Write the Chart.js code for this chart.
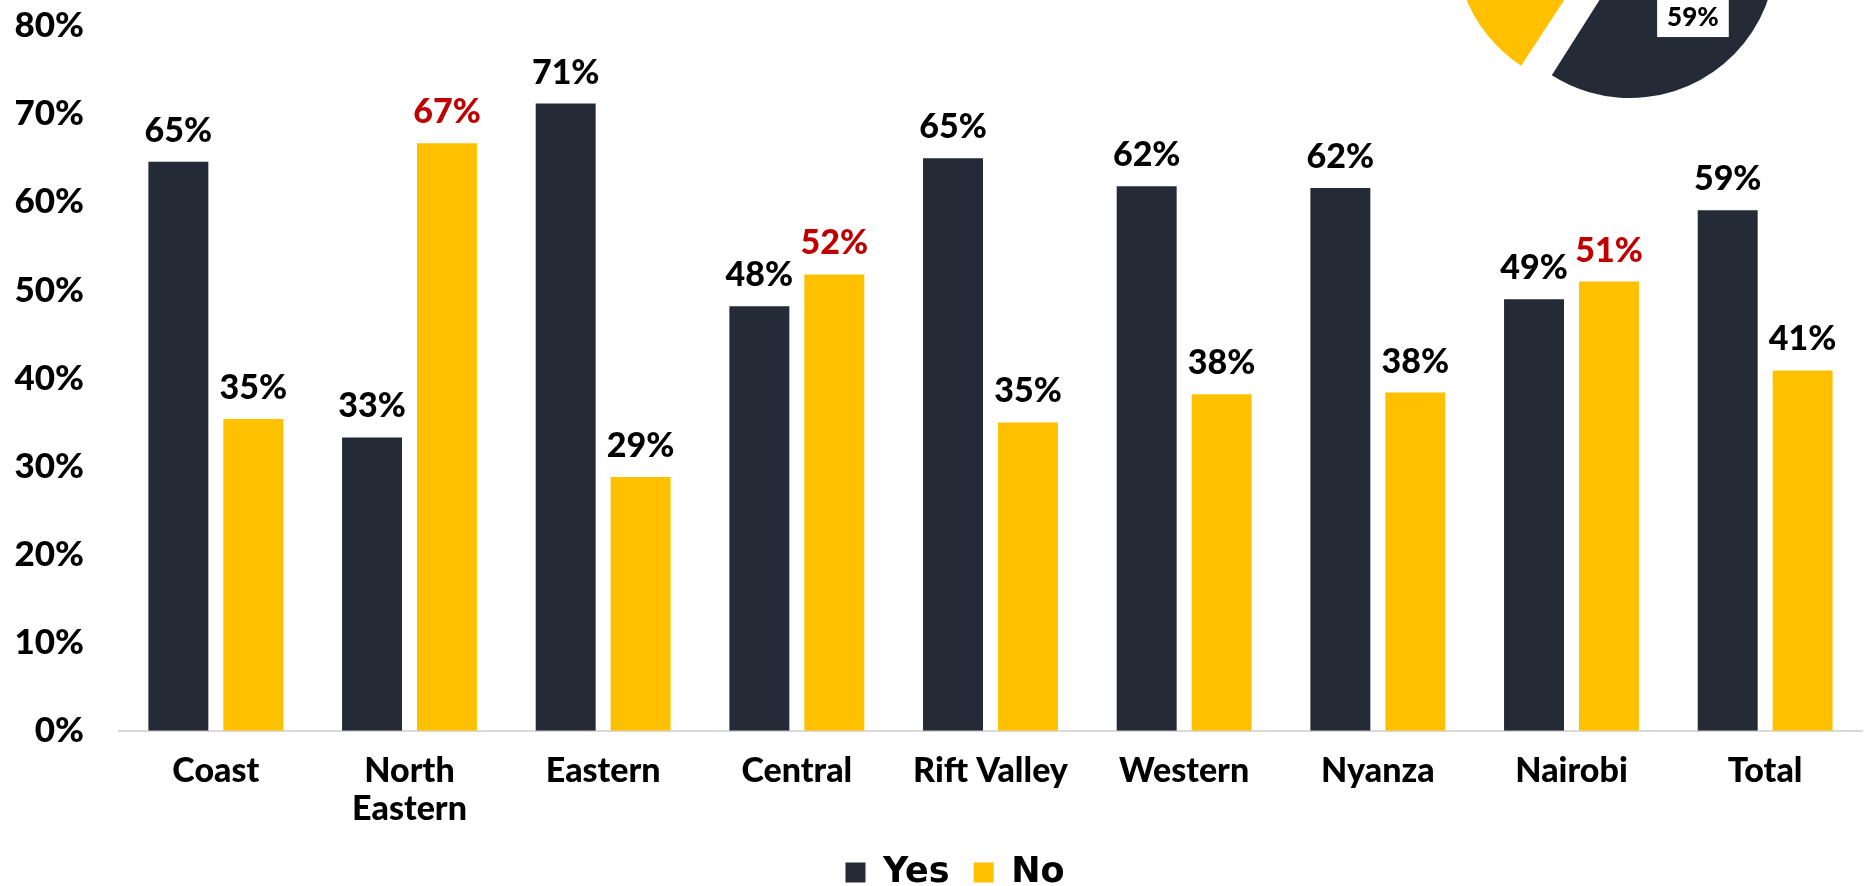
<!DOCTYPE html>
<html>
<head>
<meta charset="utf-8">
<script src="https://cdn.jsdelivr.net/npm/chart.js@4.4.1/dist/chart.umd.min.js"></script>
<style>
  html, body { margin: 0; padding: 0; background: #ffffff; overflow: hidden; width: 1872px; height: 886px; }
  #wrap { position: relative; width: 1872px; height: 886px; overflow: hidden; }
  #bars { position: absolute; left: 0; top: 0; }
  #pie { position: absolute; left: 1430px; top: -248px; }
</style>
</head>
<body>
<div id="wrap">
  <canvas id="bars" width="1872" height="886"></canvas>
  <canvas id="pie" width="400" height="400"></canvas>
</div>
<script>
// Regional breakdown: share answering Yes / No (%)
const regions = ['Coast', ['North', 'Eastern'], 'Eastern', 'Central', 'Rift Valley', 'Western', 'Nyanza', 'Nairobi', 'Total'];
const yesShare = [64.6, 33.3, 71.2, 48.2, 65.0, 61.8, 61.6, 49.0, 59.1];
const noShare  = [35.4, 66.7, 28.8, 51.8, 35.0, 38.2, 38.4, 51.0, 40.9];
const seriesNames = ['Yes', 'No'];
const yTickValues = [0, 10, 20, 30, 40, 50, 60, 70, 80];

// National split shown in the pie
const overallLabels = ['Yes', 'No'];
const overallShare = [59, 41];

const DARK = '#242A36';
const GOLD = '#FFC000';
const RED = '#C00000';
const LABEL_FONT = 'Lato, "Noto Sans", sans-serif';

// Value labels above each bar; a "No" majority is highlighted in red
const barValueLabels = {
  id: 'barValueLabels',
  afterDatasetsDraw(chart) {
    const ctx = chart.ctx;
    const sets = chart.data.datasets;
    ctx.save();
    ctx.font = '900 34px ' + LABEL_FONT;
    ctx.textAlign = 'center';
    ctx.textBaseline = 'alphabetic';
    sets.forEach((ds, di) => {
      const meta = chart.getDatasetMeta(di);
      meta.data.forEach((bar, i) => {
        const v = ds.data[i];
        const other = sets[1 - di].data[i];
        ctx.fillStyle = (di === 1 && v > other) ? RED : '#000000';
        ctx.fillText(Math.round(v) + '%', bar.x, bar.y - 20);
      });
    });
    ctx.restore();
  }
};

// Nudge the legend row to sit under the centre of the plot
const legendNudge = {
  id: 'legendNudge',
  afterLayout(chart) {
    if (chart.legend) { chart.legend.left += 48; }
  }
};

new Chart(document.getElementById('bars'), {
  type: 'bar',
  data: {
    labels: regions,
    datasets: [
      { label: seriesNames[0], data: yesShare, backgroundColor: DARK, borderWidth: 0 },
      { label: seriesNames[1], data: noShare, backgroundColor: GOLD, borderWidth: 0 }
    ]
  },
  options: {
    responsive: false,
    animation: false,
    events: [],
    layout: { padding: { left: 0, right: 10, top: 26, bottom: -14 } },
    datasets: { bar: { categoryPercentage: 0.774, barPercentage: 0.8 } },
    scales: {
      x: {
        afterFit(scale) { scale.height -= 18; },
        grid: { display: false, drawTicks: false },
        border: { display: true, color: '#D9D9D9', width: 2 },
        ticks: {
          color: '#000000',
          font: { family: LABEL_FONT, weight: '900', size: 34, lineHeight: 1.12 },
          padding: 21,
          maxRotation: 0,
          autoSkip: false
        }
      },
      y: {
        min: 0,
        max: 80,
        afterBuildTicks(scale) { scale.ticks = yTickValues.map(v => ({ value: v })); },
        afterFit(scale) { scale.width = 119; scale.paddingTop = 0; scale.paddingBottom = 0; },
        grid: { display: false, drawTicks: false },
        border: { display: false },
        ticks: {
          color: '#000000',
          font: { family: LABEL_FONT, weight: '900', size: 35 },
          padding: 35,
          callback: v => v + '%'
        }
      }
    },
    plugins: {
      legend: {
        position: 'bottom',
        labels: {
          boxWidth: 20,
          boxHeight: 20,
          color: '#000000',
          font: { family: '"DejaVu Sans", sans-serif', weight: 'bold', size: 35 },
          padding: 24
        }
      },
      tooltip: { enabled: false }
    }
  },
  plugins: [barValueLabels, legendNudge]
});

// Keep the exploded slice at the same radius as the others
const keepSliceRadius = {
  id: 'keepSliceRadius',
  afterDatasetsUpdate(chart) {
    chart.getDatasetMeta(0).data.forEach(arc => {
      const off = (arc.options.offset || 0) / 4;
      const fix = 1 - Math.sin(Math.min(Math.PI, arc.circumference));
      arc.outerRadius -= off * fix;
    });
  }
};

// Boxed percentage labels on the pie slices
const labelAngleFrac = [0.64, 0.5];
const pieValueLabels = {
  id: 'pieValueLabels',
  afterDatasetsDraw(chart) {
    const ctx = chart.ctx;
    const meta = chart.getDatasetMeta(0);
    ctx.save();
    ctx.font = '900 26px ' + LABEL_FONT;
    ctx.textAlign = 'center';
    ctx.textBaseline = 'middle';
    meta.data.forEach((arc, i) => {
      const off = (arc.options.offset || 0) / 4;
      const mid = (arc.startAngle + arc.endAngle) / 2;
      const a = arc.startAngle + (arc.endAngle - arc.startAngle) * labelAngleFrac[i];
      const r = arc.outerRadius * 0.62;
      const x = arc.x + Math.cos(mid) * off + Math.cos(a) * r;
      const y = arc.y + Math.sin(mid) * off + Math.sin(a) * r;
      const text = overallShare[i] + '%';
      const w = ctx.measureText(text).width + 20;
      ctx.fillStyle = '#FFFFFF';
      ctx.fillRect(x - w / 2, y - 20, w, 40);
      ctx.fillStyle = '#000000';
      ctx.fillText(text, x, y + 1);
    });
    ctx.restore();
  }
};

new Chart(document.getElementById('pie'), {
  type: 'pie',
  data: {
    labels: overallLabels,
    datasets: [{
      data: overallShare,
      backgroundColor: [DARK, GOLD],
      borderWidth: 0,
      offset: [0, 120]
    }]
  },
  options: {
    responsive: false,
    animation: false,
    events: [],
    radius: 146,
    layout: { padding: 0 },
    plugins: { legend: { display: false }, tooltip: { enabled: false } }
  },
  plugins: [keepSliceRadius, pieValueLabels]
});
</script>
</body>
</html>
